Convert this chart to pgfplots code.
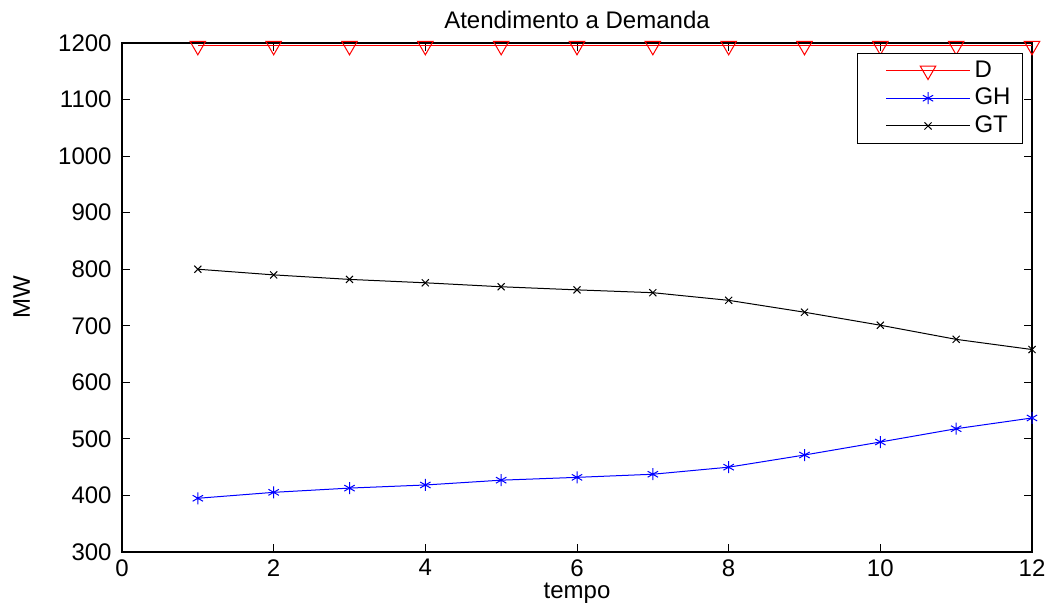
\documentclass[border=0pt]{standalone}
\usepackage{fontspec}
\setmainfont{Liberation Sans}
\usepackage{pgfplots}
\pgfplotsset{compat=1.18}
\begin{document}
\fontsize{12}{14}\selectfont
\begin{tikzpicture}
\begin{axis}[
  name=ax,
  scale only axis,
  width=455pt, height=254.5pt,
  xmin=0, xmax=12, ymin=300, ymax=1200,
  xtick={0,2,...,12},
  ytick={300,400,...,1200},
  tick align=inside,
  major tick length=4pt,
  tick style={black, line width=0.4pt},
  axis line style={black, line width=0.6pt},
  /pgf/number format/assume math mode=true,
  /pgf/number format/1000 sep={},
  tick label style={font=\fontsize{12}{14}\selectfont},
  xticklabel style={yshift=0.5pt},
  yticklabel style={xshift=-1pt},
  title={Atendimento a Demanda},
  title style={font=\fontsize{12}{14}\selectfont, yshift=-3pt},
  xlabel={tempo},
  ylabel={MW},
  label style={font=\fontsize{12}{14}\selectfont},
  xlabel style={yshift=5pt},
  ylabel style={yshift=6pt},
  clip=false,
  legend style={at={([xshift=-4.5pt,yshift=-5pt]rel axis cs:1,1)}, anchor=north east,
    draw=black, line width=0.5pt, font=\fontsize{12}{14}\selectfont,
    inner xsep=4pt, inner ysep=1.5pt, row sep=-0.3pt, cells={anchor=west}},
  legend image code/.code={\path (0pt,0pt); \draw[#1,mark repeat=2,mark phase=2] plot coordinates {(10pt,0pt)(31pt,0pt)(52pt,0pt)};},
]
\addplot[red, line width=0.5pt, mark=triangle, mark size=4.5pt, mark options={rotate=180, solid, fill=none}]
  coordinates {(1,1195)(2,1195)(3,1195)(4,1195)(5,1195)(6,1195)(7,1195)(8,1195)(9,1195)(10,1195)(11,1195)(12,1195)};
\addlegendentry{D}
\addplot[blue, line width=0.5pt, mark=asterisk, mark size=3pt]
  coordinates {(1,395)(2,405.5)(3,413)(4,418.5)(5,427)(6,432)(7,437.5)(8,450)(9,471.5)(10,494.5)(11,518)(12,537)};
\addlegendentry{GH}
\addplot[black, line width=0.5pt, mark=x, mark size=2.5pt]
  coordinates {(1,800)(2,790)(3,782)(4,776)(5,769)(6,763.5)(7,758.5)(8,745)(9,724)(10,701)(11,676)(12,658)};
\addlegendentry{GT}
\end{axis}
\pgfresetboundingbox
\path[use as bounding box] ([xshift=-61pt,yshift=-27pt]ax.south west) rectangle ([xshift=11.5pt,yshift=21.5pt]ax.north east);
\end{tikzpicture}
\end{document}
